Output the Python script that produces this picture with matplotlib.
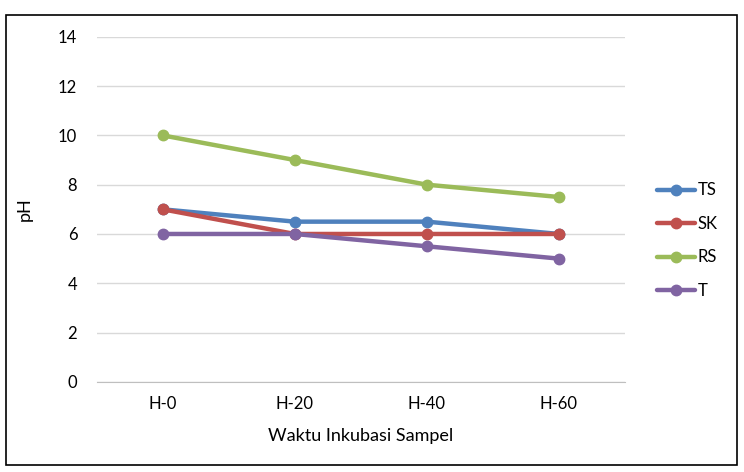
import matplotlib.pyplot as plt
from matplotlib.patches import Rectangle

plt.rcParams['font.family'] = ['Lato', 'DejaVu Sans']

categories = ['H-0', 'H-20', 'H-40', 'H-60']
ts = [7, 6.5, 6.5, 6]
sk = [7, 6, 6, 6]
rs = [10, 9, 8, 7.5]
t = [6, 6, 5.5, 5]

series = [('TS', ts, '#4F81BD'), ('SK', sk, '#C0504D'),
          ('RS', rs, '#9BBB59'), ('T', t, '#8064A2')]

fig = plt.figure(figsize=(7.44, 4.72), dpi=100)
ax = fig.add_axes([0.130, 0.191, 0.710, 0.731])

x = range(len(categories))
for name, vals, col in series:
    ax.plot(x, vals, color=col, lw=3.2, marker='o', ms=7.5, label=name,
            solid_capstyle='round')

ax.set_xlim(-0.5, 3.5)
ax.set_ylim(0, 14)
ax.set_yticks(range(0, 15, 2))
ax.set_xticks(list(x))
ax.set_xticklabels(categories)
ax.grid(axis='y', color='#d9d9d9', lw=1)
ax.set_axisbelow(True)
for s in ['top', 'right', 'left']:
    ax.spines[s].set_visible(False)
ax.spines['bottom'].set_color('#bfbfbf')
ax.tick_params(length=0, labelsize=12, pad=14)
ax.tick_params(axis='x', pad=10)
ax.set_xlabel('Waktu Inkubasi Sampel', fontsize=13, labelpad=12)
ax.set_ylabel('pH', fontsize=13, labelpad=18)

fig.legend(loc='center left', bbox_to_anchor=(0.863, 0.49), frameon=False,
           fontsize=12, handlelength=2.3, labelspacing=1.05, handletextpad=0.15)

fig.patches.append(Rectangle((0.008, 0.015), 0.983, 0.953, transform=fig.transFigure,
                             fill=False, edgecolor='black', lw=1.2))

fig.savefig('out.png', dpi=100)
